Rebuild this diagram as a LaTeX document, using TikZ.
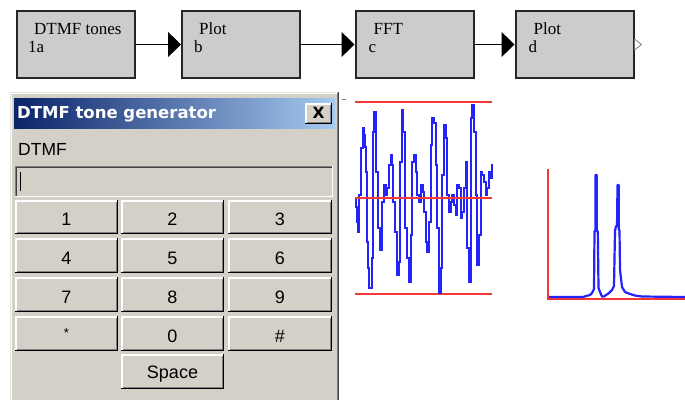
\documentclass[tikz,border=0pt]{standalone}
\usepackage{fontspec}
\setmainfont{Liberation Serif}
\newfontfamily\uisans{Liberation Sans}
\newfontfamily\uititle{DejaVu Sans}
\usetikzlibrary{arrows.meta,calc}
\definecolor{dlgface}{RGB}{212,208,200}
\definecolor{blockfill}{RGB}{206,203,207}
\definecolor{titledark}{RGB}{10,36,106}
\definecolor{titlelight}{RGB}{166,202,240}
\definecolor{plotred}{RGB}{245,55,55}
\definecolor{plotblue}{RGB}{35,35,250}
\definecolor{shadowgrey}{RGB}{128,128,128}
\definecolor{darkedge}{RGB}{64,64,64}
\tikzset{
  blockbox/.style={draw=black!85, line width=2pt, fill=blockfill, minimum width=118pt, minimum height=67pt, inner sep=0pt},
  blocktext/.style={inner sep=0pt, anchor=base west, font=\fontsize{17}{20}\selectfont},
  conn/.style={line width=1.2pt, -{Triangle[length=13pt,width=25pt]}},
  btnlabel/.style={inner sep=0pt, anchor=base, font=\uisans\fontsize{18}{20}\selectfont},
  redline/.style={plotred, line width=2pt},
  blueline/.style={plotblue, line width=2.2pt, line join=miter},
}
% x1 y1 x2 y2 name label baseline
\newcommand\dlgbtn[7]{%
  \fill[dlgface] (#1,#2) rectangle (#3,#4);
  \draw[white, line width=1.5pt] (#1+0.75,#4-1) -- (#1+0.75,#2+0.75) -- (#3-1,#2+0.75);
  \draw[shadowgrey, line width=1pt] (#1+1.5,#4-1.5) -- (#3-1.5,#4-1.5) -- (#3-1.5,#2+1.5);
  \draw[black, line width=1pt] (#1,#4-0.5) -- (#3-0.5,#4-0.5) -- (#3-0.5,#2);
  \node[btnlabel] (#5) at ({(#1+#3)/2},#7) {#6};
}
\begin{document}
\begin{tikzpicture}[x=1pt,y=-1pt]
\useasboundingbox (0,0) rectangle (685,400);
\fill[white] (0,0) rectangle (685,400);

% ---------- block diagram ----------
\node[blockbox] (b1) at (76,44.5) {};
\node[blockbox] (b2) at (241,44.5) {};
\node[blockbox] (b3) at (414.5,44.5) {};
\node[blockbox] (b4) at (574.5,44.5) {};
\node[blocktext] (b1t) at ($(b1.north west)+(18,24)$) {DTMF tones};
\node[blocktext] (b1n) at ($(b1.north west)+(12,42)$) {1a};
\node[blocktext] (b2t) at ($(b2.north west)+(18,24)$) {Plot};
\node[blocktext] (b2n) at ($(b2.north west)+(13,42)$) {b};
\node[blocktext] (b3t) at ($(b3.north west)+(19,24)$) {FFT};
\node[blocktext] (b3n) at ($(b3.north west)+(14,42)$) {c};
\node[blocktext] (b4t) at ($(b4.north west)+(19,24)$) {Plot};
\node[blocktext] (b4n) at ($(b4.north west)+(14,42)$) {d};
\draw[conn] (b1.east) -- (b2.west);
\draw[conn] (b2.east) -- (b3.west);
\draw[conn] (b3.east) -- (b4.west);
\draw[gray, fill=white, line width=0.8pt] ($(b4.east)+(0,-5.5)$) -- ($(b4.east)+(7,0)$) -- ($(b4.east)+(0,5.5)$);

% ---------- dialog window ----------
\fill[dlgface] (10,92) rectangle (339,400);
\draw[dlgface!60!white, line width=1pt] (10.5,400) -- (10.5,92.5) -- (338,92.5);
\draw[white, line width=1pt] (11.5,400) -- (11.5,93.5) -- (337,93.5);
\draw[shadowgrey, line width=1pt] (337.5,93) -- (337.5,400);
\draw[darkedge, line width=1pt] (338.7,92) -- (338.7,400);
\shade[left color=titledark, right color=titlelight] (14,98) rectangle (335,128);
\node[anchor=base west, inner sep=0pt, text=white, font=\uititle\bfseries\fontsize{16.5}{20}\selectfont] (title) at (17,118) {DTMF tone generator};
\dlgbtn{305}{103}{332}{124}{closebtn}{\uititle\bfseries\fontsize{15.5}{16}\selectfont X}{118.5}
\node[anchor=base west, inner sep=0pt, font=\uisans\fontsize{17.5}{20}\selectfont] (dtmflabel) at (18,155) {DTMF};
% text field
\fill[dlgface] (15,166) rectangle (333,197);
\draw[shadowgrey, line width=1pt] (15.5,197) -- (15.5,166.5) -- (333,166.5);
\draw[darkedge, line width=1.2pt] (16.8,196) -- (16.8,167.8) -- (332,167.8);
\draw[white, line width=1pt] (15,196.5) -- (332.5,196.5) -- (332.5,166);
\draw[black, line width=0.9pt] (20,172) -- (20,191);
% keypad
\dlgbtn{15}{200}{118}{234}{k1}{1}{225}
\dlgbtn{121}{200}{224}{234}{k2}{2}{225}
\dlgbtn{228}{200}{332}{234}{k3}{3}{225}
\dlgbtn{15}{238}{118}{273}{k4}{4}{264}
\dlgbtn{121}{238}{224}{273}{k5}{5}{264}
\dlgbtn{228}{238}{332}{273}{k6}{6}{264}
\dlgbtn{15}{277}{118}{312}{k7}{7}{303}
\dlgbtn{121}{277}{224}{312}{k8}{8}{303}
\dlgbtn{228}{277}{332}{312}{k9}{9}{303}
\dlgbtn{15}{316}{118}{351}{kstar}{\fontsize{13}{14}\selectfont *}{337}
\dlgbtn{121}{316}{224}{351}{k0}{0}{342}
\dlgbtn{228}{316}{332}{351}{khash}{\#}{342}
\dlgbtn{121}{354}{224}{389}{kspace}{Space}{378}

\draw[gray, line width=0.8pt] (342,99) -- (346,99);

% ---------- time plot ----------
\draw[redline] (355,102) -- (492,102);
\draw[redline] (355,294) -- (492,294);
\begin{scope}[shift={(350,95)}, x=0.33333pt, y=-0.33333pt]
\draw[blueline] plot[const plot] coordinates {
(15,308)(17,335)(20,380)(25,410)(28,300)(32,160)(38,100)(42,120)(45,155)(48,230)
(52,440)(55,520)(58,580)(65,490)(68,110)(72,50)(78,230)(85,400)(90,465)(97,320)
(102,270)(108,300)(112,280)(118,210)(122,180)(127,210)(130,320)(135,410)(140,540)(147,500)
(150,200)(155,45)(160,110)(165,400)(170,490)(177,560)(182,420)(186,200)(192,180)(197,230)
(202,300)(207,320)(212,270)(218,290)(222,350)(227,440)(232,470)(237,380)(242,150)(247,70)
(252,85)(257,210)(262,400)(267,595)(272,520)(277,240)(282,90)(287,130)(292,300)(297,350)
(302,320)(307,300)(312,330)(317,360)(322,270)(327,280)(332,370)(337,350)(342,280)(347,200)
(352,460)(357,560)(362,70)(367,30)(372,110)(377,300)(382,510)(387,420)(392,230)(397,240)
(402,260)(407,300)(412,280)(417,230)(422,250)(427,210)(430,210)};
\end{scope}
\draw[redline] (355,198) -- (492,198);

% ---------- spectrum plot ----------
\draw[redline] (548,169) -- (548,299) -- (685,299);
\draw[blueline, line join=round] (549,297) -- (583,297) -- (586,296) -- (590,295) -- (592,293) -- (594,289)
  -- (594.5,231) -- (595.5,231) -- (595.5,175) -- (596.8,175) -- (596.8,231) -- (597.8,231)
  -- (598.5,288) -- (600,292) -- (602,296.5) -- (604,296.5) -- (606,295) -- (609,293) -- (612,290)
  -- (614,286) -- (615,231) -- (616,226) -- (617,226) -- (617.5,185) -- (618.7,185) -- (618.7,230)
  -- (619.5,230) -- (620,270) -- (622,287) -- (625,292) -- (630,294) -- (635,295.5) -- (642,296.5) -- (685,297);
\end{tikzpicture}
\end{document}
